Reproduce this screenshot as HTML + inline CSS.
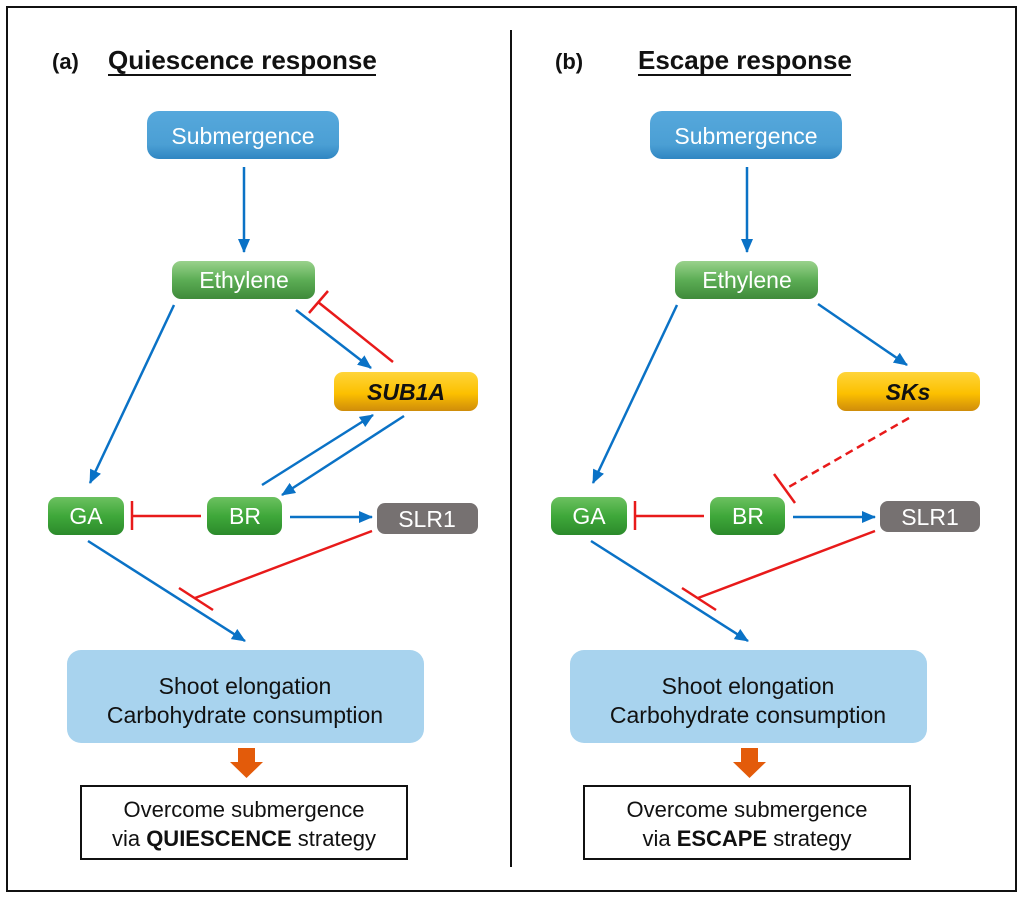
<!DOCTYPE html>
<html><head><meta charset="utf-8"><style>
body{margin:0;background:#fff;}
svg text{font-family:"Liberation Sans",Arial,sans-serif;}
</style></head><body>
<svg width="1024" height="899" viewBox="0 0 1024 899" xmlns="http://www.w3.org/2000/svg">
<defs>
<linearGradient id="gb" x1="0" y1="0" x2="0" y2="1"><stop offset="0" stop-color="#56a8dc"/><stop offset="0.7" stop-color="#4b9fd4"/><stop offset="1" stop-color="#2f86c2"/></linearGradient>
<linearGradient id="gg" x1="0" y1="0" x2="0" y2="1"><stop offset="0" stop-color="#9ad28c"/><stop offset="0.5" stop-color="#5cad55"/><stop offset="1" stop-color="#3f8a3a"/></linearGradient>
<linearGradient id="gg2" x1="0" y1="0" x2="0" y2="1"><stop offset="0" stop-color="#6cc160"/><stop offset="0.5" stop-color="#3fa83a"/><stop offset="1" stop-color="#2b8a2b"/></linearGradient>
<linearGradient id="gy" x1="0" y1="0" x2="0" y2="1"><stop offset="0" stop-color="#ffd53a"/><stop offset="0.55" stop-color="#fcc000"/><stop offset="1" stop-color="#cf8c0a"/></linearGradient>
<marker id="ab2" markerWidth="14" markerHeight="12" refX="13" refY="6" orient="auto" markerUnits="userSpaceOnUse"><path d="M0,0 L14,6 L0,12 Z" fill="#0a72c6"/></marker>
</defs>
<rect x="7" y="7" width="1009" height="884" fill="none" stroke="#111" stroke-width="2"/>
<line x1="511" y1="30" x2="511" y2="867" stroke="#111" stroke-width="2"/>

<g id="pa">
<rect x="147" y="111" width="192" height="48" rx="12" fill="url(#gb)"/>
<text x="243" y="144" font-size="23" fill="#fff" text-anchor="middle">Submergence</text>
<line x1="244" y1="167" x2="244" y2="252" stroke="#0a72c6" stroke-width="2.5" marker-end="url(#ab2)"/>
<rect x="172" y="261" width="143" height="38" rx="9" fill="url(#gg)"/>
<text x="244" y="288" font-size="23" fill="#fff" text-anchor="middle">Ethylene</text>
<line x1="174" y1="305" x2="90" y2="483" stroke="#0a72c6" stroke-width="2.5" marker-end="url(#ab2)"/>
<rect x="48" y="497" width="76" height="38" rx="9" fill="url(#gg2)"/>
<text x="86" y="524" font-size="23" fill="#fff" text-anchor="middle">GA</text>
<rect x="207" y="497" width="75" height="38" rx="9" fill="url(#gg2)"/>
<text x="245" y="524" font-size="23" fill="#fff" text-anchor="middle">BR</text>
<line x1="201" y1="516" x2="132" y2="516" stroke="#e81a1a" stroke-width="2.5"/>
<line x1="132" y1="501" x2="132" y2="530" stroke="#e81a1a" stroke-width="2.5"/>
<line x1="290" y1="517" x2="372" y2="517" stroke="#0a72c6" stroke-width="2.5" marker-end="url(#ab2)"/>
<line x1="372" y1="531" x2="195" y2="598" stroke="#e81a1a" stroke-width="2.5"/>
<line x1="179" y1="588" x2="213" y2="610" stroke="#e81a1a" stroke-width="2.5"/>
<line x1="88" y1="541" x2="245" y2="641" stroke="#0a72c6" stroke-width="2.5" marker-end="url(#ab2)"/>
<rect x="67" y="650" width="357" height="93" rx="14" fill="#a8d3ee"/>
<text x="245" y="694" font-size="23" fill="#111" text-anchor="middle">Shoot elongation</text>
<text x="245" y="723" font-size="23" fill="#111" text-anchor="middle">Carbohydrate consumption</text>
<path d="M238,748 H255 V762 H263 L246.5,778 L230,762 H238 Z" fill="#e35b0a"/>
<rect x="81" y="786" width="326" height="73" fill="#fff" stroke="#111" stroke-width="2"/>
</g>

<text x="52" y="69" font-size="22" font-weight="bold" fill="#111">(a)</text>
<text x="108" y="69" font-size="26" font-weight="bold" fill="#111">Quiescence response</text>
<line x1="108" y1="75" x2="376" y2="75" stroke="#111" stroke-width="2"/>
<line x1="296" y1="310" x2="371" y2="368" stroke="#0a72c6" stroke-width="2.5" marker-end="url(#ab2)"/>
<line x1="393" y1="362" x2="318" y2="302" stroke="#e81a1a" stroke-width="2.5"/>
<line x1="328" y1="291" x2="309" y2="313" stroke="#e81a1a" stroke-width="2.5"/>
<rect x="334" y="372" width="144" height="39" rx="9" fill="url(#gy)"/>
<text x="406" y="400" font-size="23" font-weight="bold" font-style="italic" fill="#111" text-anchor="middle">SUB1A</text>
<line x1="404" y1="416" x2="282" y2="495" stroke="#0a72c6" stroke-width="2.5" marker-end="url(#ab2)"/>
<line x1="262" y1="485" x2="373" y2="415" stroke="#0a72c6" stroke-width="2.5" marker-end="url(#ab2)"/>
<rect x="377" y="503" width="101" height="31" rx="8" fill="#767171"/>
<text x="427" y="527" font-size="23" fill="#fff" text-anchor="middle">SLR1</text>
<text x="244" y="817" font-size="22" fill="#111" text-anchor="middle">Overcome submergence</text>
<text x="244" y="846" font-size="22" fill="#111" text-anchor="middle">via <tspan font-weight="bold">QUIESCENCE</tspan> strategy</text>

<use href="#pa" transform="translate(503,0)"/>
<text x="555" y="69" font-size="22" font-weight="bold" fill="#111">(b)</text>
<text x="638" y="69" font-size="26" font-weight="bold" fill="#111">Escape response</text>
<line x1="638" y1="75" x2="851" y2="75" stroke="#111" stroke-width="2"/>
<line x1="818" y1="304" x2="907" y2="365" stroke="#0a72c6" stroke-width="2.5" marker-end="url(#ab2)"/>
<rect x="837" y="372" width="143" height="39" rx="9" fill="url(#gy)"/>
<text x="908" y="400" font-size="23" font-weight="bold" font-style="italic" fill="#111" text-anchor="middle">SKs</text>
<line x1="909" y1="418" x2="787" y2="488" stroke="#e81a1a" stroke-width="2.5" stroke-dasharray="8,5"/>
<line x1="774" y1="474" x2="795" y2="503" stroke="#e81a1a" stroke-width="2.5"/>
<rect x="880" y="501" width="100" height="31" rx="8" fill="#767171"/>
<text x="930" y="525" font-size="23" fill="#fff" text-anchor="middle">SLR1</text>
<text x="747" y="817" font-size="22" fill="#111" text-anchor="middle">Overcome submergence</text>
<text x="747" y="846" font-size="22" fill="#111" text-anchor="middle">via <tspan font-weight="bold">ESCAPE</tspan> strategy</text>
</svg>
</body></html>
